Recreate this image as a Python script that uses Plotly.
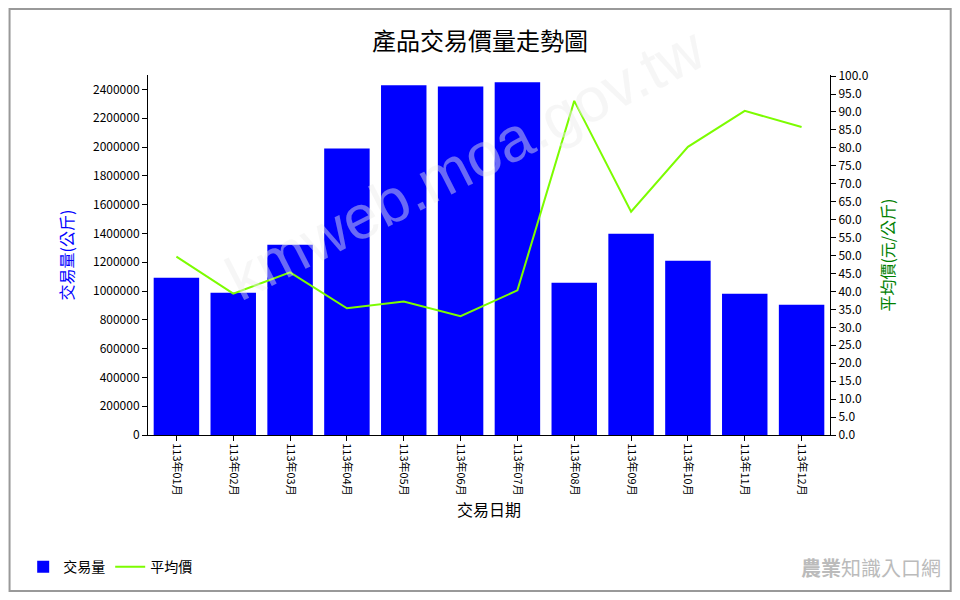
import plotly.graph_objects as go

months = ["113年01月", "113年02月", "113年03月", "113年04月", "113年05月", "113年06月",
          "113年07月", "113年08月", "113年09月", "113年10月", "113年11月", "113年12月"]
volume = [1092000, 988000, 1322000, 1990000, 2428000, 2421000,
          2449000, 1057000, 1398000, 1210000, 981000, 904000]
price = [49.7, 39.4, 45.3, 35.3, 37.2, 33.1, 40.3, 93.1, 62.2, 80.3, 90.3, 85.8]

cjk = "Noto Sans CJK TC"

fig = go.Figure()
fig.add_trace(go.Bar(x=months, y=volume, name="交易量", marker_color="#0000ff",
                     marker_line_width=0, yaxis="y"))
fig.add_trace(go.Scatter(x=months, y=price, name="平均價", mode="lines",
                         line=dict(color="#7cfc00", width=2), yaxis="y2"))

# page has an 8px body margin, so the figure is a bit smaller than the window
fig.update_layout(
    width=944, height=584,
    paper_bgcolor="white", plot_bgcolor="white",
    margin=dict(l=140, r=122, t=67, b=157, autoexpand=False),
    font=dict(family=cjk, color="black", size=12),
    title=dict(text="產品交易價量走勢圖", x=0.5, y=0.957, xanchor="center",
               font=dict(size=24, family=cjk)),
    bargap=0.2,
    showlegend=True,
    legend=dict(orientation="h", x=-0.183, y=-0.367, xanchor="left", yanchor="middle",
                font=dict(size=14, family=cjk)),
    xaxis=dict(title=dict(text="交易日期", font=dict(size=16), standoff=10),
               tickangle=90, showline=True, linecolor="black", ticks="outside",
               ticklen=5, tickcolor="black", showgrid=False,
               tickfont=dict(size=11)),
    yaxis=dict(title=dict(text="交易量(公斤)", font=dict(size=16, color="#0000ff")),
               range=[0, 2500000], dtick=200000, tickformat="d",
               showline=True, linecolor="black", ticks="outside", ticklen=5,
               tickcolor="black", showgrid=False, zeroline=False),
    yaxis2=dict(title=dict(text="平均價(元/公斤)", font=dict(size=16, color="green")),
                overlaying="y", side="right", range=[0, 100.3], dtick=5,
                tickformat=".1f", showline=True, linecolor="black", ticks="outside",
                ticklen=5, tickcolor="black", showgrid=False, zeroline=False),
    shapes=[dict(type="rect", xref="paper", yref="paper", x0=-0.203, x1=1.177,
                 y0=-0.433, y1=1.183, line=dict(color="#999", width=2))],
    annotations=[
        dict(text="kmweb.moa.gov.tw", xref="paper", yref="paper", x=0.465, y=0.33,
             showarrow=False, textangle=-27,
             font=dict(size=62, color="rgba(235,235,235,0.45)", family="Arial")),
        dict(text="<b>農業</b>知識入口網", xref="paper", yref="paper", x=1.165, y=-0.367,
             xanchor="right", yanchor="middle", showarrow=False,
             font=dict(size=20, color="#bbbbbb", family=cjk)),
    ],
)

fig.write_html("out.html")
